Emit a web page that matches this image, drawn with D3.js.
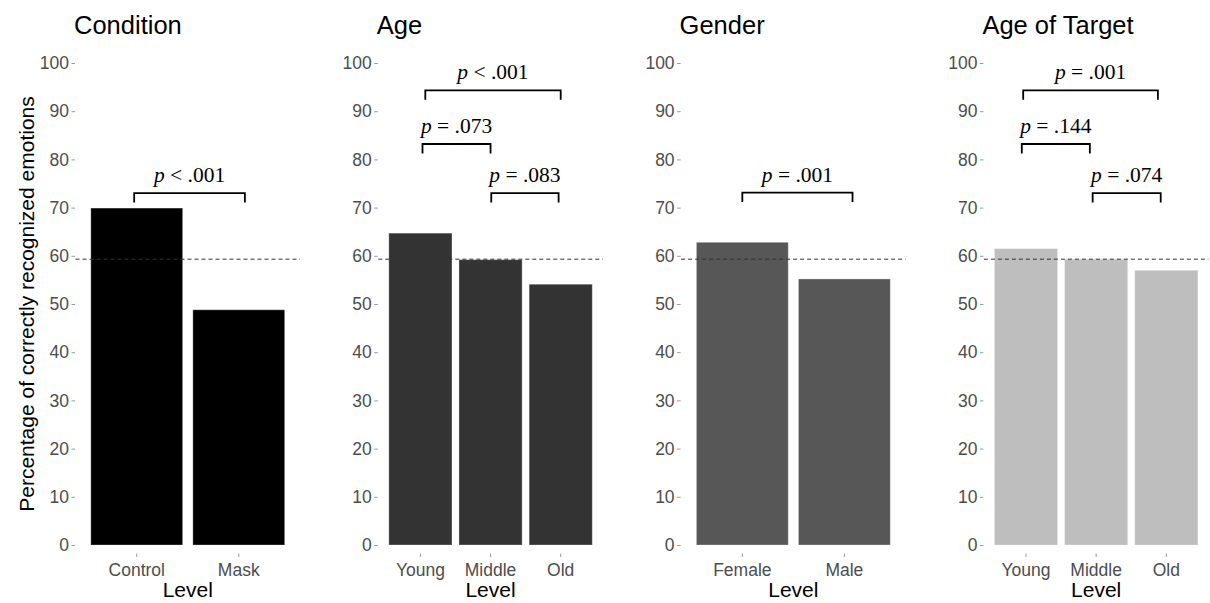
<!DOCTYPE html>
<html><head><meta charset="utf-8">
<script src="https://cdn.jsdelivr.net/npm/d3@7"></script>
<style>body{margin:0;background:#fff;} svg{display:block;}</style>
</head><body>
<svg id="chart" width="1210" height="603"></svg>
<script>
// ---- data ----
const panelTitles = ["Condition", "Age", "Gender", "Age of Target"];
const levelsCondition = ["Control", "Mask"];
const valuesCondition = [69.9, 48.8];
const levelsAge = ["Young", "Middle", "Old"];
const valuesAge = [64.7, 59.2, 54.1];
const levelsGender = ["Female", "Male"];
const valuesGender = [62.8, 55.2];
const levelsTarget = ["Young", "Middle", "Old"];
const valuesTarget = [61.5, 59.3, 57.0];
const yTicks = [0, 10, 20, 30, 40, 50, 60, 70, 80, 90, 100];
const overallMean = 59.3;
// brackets: [from (level index, 1-based), to, height, p-op, p-value]
const bracketsCondition = [[0.975, 2.06, 73.0, "<", ".001"]];
const bracketsAge = [[1.07, 3.0, 94.3, "<", ".001"], [1.03, 2.0, 83.2, "=", ".073"], [2.01, 2.97, 73.0, "=", ".083"]];
const bracketsGender = [[1.0, 2.08, 73.1, "=", ".001"]];
const bracketsTarget = [[0.96, 2.88, 94.3, "=", ".001"], [0.94, 1.91, 83.2, "=", ".144"], [1.95, 2.92, 73.0, "=", ".074"]];

const panels = [
  {title: panelTitles[0], levels: levelsCondition, values: valuesCondition, brackets: bracketsCondition, fill: "#000000"},
  {title: panelTitles[1], levels: levelsAge, values: valuesAge, brackets: bracketsAge, fill: "#333333"},
  {title: panelTitles[2], levels: levelsGender, values: valuesGender, brackets: bracketsGender, fill: "#575757"},
  {title: panelTitles[3], levels: levelsTarget, values: valuesTarget, brackets: bracketsTarget, fill: "#bebebe"}
];

// ---- layout ----
const svg = d3.select("#chart");
const yTop = 63, yBottom = 545;
const panelLeft0 = 75.5, panelStep = 302.8, panelW = 224.5;
const y = d3.scaleLinear().domain([0, 100]).range([yBottom, yTop]);
const sans = "'Liberation Sans', Arial, sans-serif";
const serif = "'Liberation Serif', 'Times New Roman', serif";

// y-axis title
svg.append("text")
  .attr("transform", `translate(34,${(yTop + yBottom) / 2}) rotate(-90)`)
  .attr("text-anchor", "middle")
  .attr("font-family", sans).attr("font-size", 21).attr("fill", "#000")
  .text("Percentage of correctly recognized emotions");

panels.forEach((p, i) => {
  const left = panelLeft0 + i * panelStep, right = left + panelW;
  const n = p.levels.length;
  const x = d3.scaleBand().domain(p.levels).range([left, right]).paddingInner(0.1).paddingOuter(0.15);
  const xc = d3.scaleLinear().domain([0.4, n + 0.6]).range([left, right]);
  const g = svg.append("g");

  // title
  g.append("text").attr("x", left - 1.5).attr("y", 34)
    .attr("font-family", sans).attr("font-size", 25.5).attr("fill", "#000")
    .text(p.title);

  // y axis
  const yAxis = d3.axisLeft(y).tickValues(yTicks).tickSize(3.5).tickPadding(2.5);
  const ya = g.append("g").attr("transform", `translate(${left - 0.5},0)`).call(yAxis);
  ya.select(".domain").remove();
  ya.selectAll("line").attr("stroke", "#9a9a9a").attr("stroke-width", 1);
  ya.selectAll("text").attr("font-family", sans).attr("font-size", 17.5).attr("fill", "#4d4d4d");

  // x axis
  const xAxis = d3.axisBottom(x).tickSize(3.5).tickPadding(7);
  const xa = g.append("g").attr("transform", `translate(0,${yBottom + 8.5})`).call(xAxis);
  xa.select(".domain").remove();
  xa.selectAll("line").attr("stroke", "#9a9a9a").attr("stroke-width", 1);
  xa.selectAll("text").attr("font-family", sans).attr("font-size", 17.5).attr("fill", "#4d4d4d");

  g.append("text").attr("x", (left + right) / 2).attr("y", 597)
    .attr("text-anchor", "middle").attr("font-family", sans).attr("font-size", 21).attr("fill", "#000")
    .text("Level");

  // bars
  g.selectAll("rect.bar").data(p.levels.map((l, k) => ({l, v: p.values[k]})))
    .enter().append("rect").attr("class", "bar")
    .attr("x", d => x(d.l)).attr("width", x.bandwidth())
    .attr("y", d => y(d.v)).attr("height", d => y(0) - y(d.v))
    .attr("fill", p.fill)
    .attr("stroke", "#ffffff").attr("stroke-opacity", 0.3).attr("stroke-width", 1);

  // mean line
  g.append("line").attr("x1", left).attr("x2", right)
    .attr("y1", y(overallMean)).attr("y2", y(overallMean))
    .attr("stroke", "#333").attr("stroke-width", 1).attr("stroke-dasharray", "4,3");

  // brackets
  const tip = 1.95;
  p.brackets.forEach(b => {
    const [a, c, h, op, pv] = b;
    const path = d3.path();
    path.moveTo(xc(a), y(h - tip));
    path.lineTo(xc(a), y(h));
    path.lineTo(xc(c), y(h));
    path.lineTo(xc(c), y(h - tip));
    g.append("path").attr("d", path.toString()).attr("fill", "none")
      .attr("stroke", "#000").attr("stroke-width", 1.8);
    const t = g.append("text").attr("x", (xc(a) + xc(c)) / 2).attr("y", y(h) - 11)
      .attr("text-anchor", "middle").attr("font-family", serif).attr("font-size", 21.5).attr("fill", "#000");
    t.append("tspan").attr("font-style", "italic").text("p");
    t.append("tspan").text(" " + op + " " + pv);
  });
});
</script>
</body></html>
